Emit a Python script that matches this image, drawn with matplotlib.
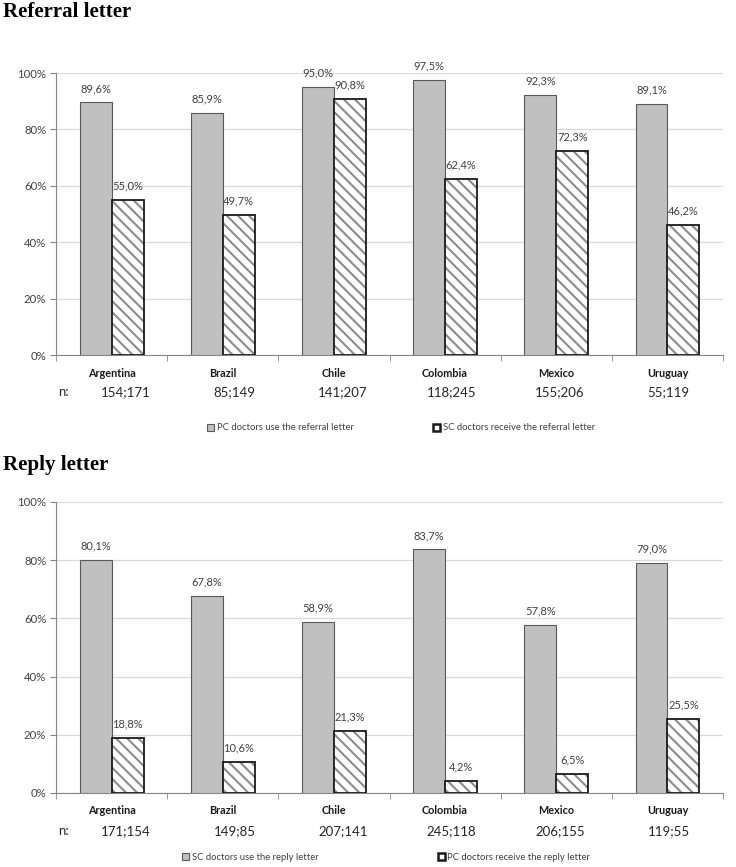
import numpy as np
from matplotlib import pyplot as plt
from matplotlib.patches import Rectangle

countries = ['Argentina', 'Brazil', 'Chile', 'Colombia', 'Mexico', 'Uruguay']

# referral letter
ref_use = [89.6, 85.9, 95.0, 97.5, 92.3, 89.1]
ref_receive = [55.0, 49.7, 90.8, 62.4, 72.3, 46.2]
ref_n = ['154;171', '85;149', '141;207', '118;245', '155;206', '55;119']

# reply letter
rep_use = [80.1, 67.8, 58.9, 83.7, 57.8, 79.0]
rep_receive = [18.8, 10.6, 21.3, 4.2, 6.5, 25.5]
rep_n = ['171;154', '149;85', '207;141', '245;118', '206;155', '119;55']

plt.rcParams['font.family'] = ['Lato', 'DejaVu Sans']
plt.rcParams['hatch.linewidth'] = 1.5

fig = plt.figure(figsize=(7.36, 8.67), dpi=100)
fig.patch.set_facecolor('white')

GRAY = '#c0c0c0'
TXT = '#404040'


def pct(v):
    return f'{v:.1f}%'.replace('.', ',')


def draw_panel(ax, use, receive, nvals):
    x = np.arange(len(countries))
    w = 0.287
    b1 = ax.bar(x - w / 2, use, w, color=GRAY, edgecolor='#595959', linewidth=0.8, zorder=3)
    # hatch in gray, black outline on top
    b2 = ax.bar(x + w / 2, receive, w, color='white', edgecolor='#8c8c8c', linewidth=0,
                hatch='\\\\\\', zorder=3)
    ax.bar(x + w / 2, receive, w, fill=False, edgecolor='#1a1a1a', linewidth=1.3, zorder=4)
    for bars, vals in [(b1, use), (b2, receive)]:
        for bar, v in zip(bars, vals):
            ax.annotate(pct(v), (bar.get_x() + bar.get_width() / 2, v),
                        xytext=(0, 10), textcoords='offset points',
                        ha='center', va='center', fontsize=8, color=TXT)
    ax.set_xlim(-0.5, len(countries) - 0.5)
    ax.set_ylim(0, 100)
    ax.set_yticks(np.arange(0, 101, 20))
    ax.set_yticklabels([f'{t}%' for t in range(0, 101, 20)], fontsize=8.2, color=TXT)
    ax.set_xticks(x)
    ax.set_xticklabels(countries, fontsize=7.8, fontweight='bold', color='#1a1a1a')
    ax.set_xticks(np.arange(-0.5, len(countries)), minor=True)
    ax.tick_params(axis='x', which='major', length=0, pad=9)
    ax.tick_params(axis='x', which='minor', length=4, color='#868686')
    ax.tick_params(axis='y', length=4, color='#868686', pad=3)
    ax.grid(axis='y', color='#d9d9d9', linewidth=0.9, zorder=0)
    for s in ['top', 'right']:
        ax.spines[s].set_visible(False)
    ax.spines['left'].set_color('#868686')
    ax.spines['bottom'].set_color('#868686')
    # n row
    trans = ax.get_xaxis_transform()
    ax.text(-0.43, -0.131, 'n:', transform=trans, ha='center', va='center',
            fontsize=9.5, color='#262626')
    for i, n in enumerate(nvals):
        ax.text(0.129 + 0.976 * i, -0.131, n, transform=trans, ha='center', va='center',
                fontsize=9.5, color='#262626')


def add_legend(labels, x0, y0, spacing):
    h1 = Rectangle((0, 0), 1, 1, facecolor=GRAY, edgecolor='#595959', linewidth=0.8)
    h2 = Rectangle((0, 0), 1, 1, facecolor='white', edgecolor='#1a1a1a', linewidth=1.8)
    fig.legend([h1, h2], labels, loc='center left', bbox_to_anchor=(x0, y0),
               ncol=2, frameon=False, fontsize=6.8, handlelength=0.75, handleheight=0.75,
               handletextpad=0.3, columnspacing=spacing, borderpad=0, borderaxespad=0,
               labelcolor=TXT)


ax1 = fig.add_axes([0.0761, 0.5905, 0.9063, 0.3253])
draw_panel(ax1, ref_use, ref_receive, ref_n)
add_legend(['PC doctors use the referral letter', 'SC doctors receive the referral letter'],
           207 / 736, 1 - 428 / 867, 8.4)

ax2 = fig.add_axes([0.0761, 0.0854, 0.9063, 0.3356])
draw_panel(ax2, rep_use, rep_receive, rep_n)
add_legend(['SC doctors use the reply letter', 'PC doctors receive the reply letter'],
           182 / 736, 1 - 857 / 867, 12.6)

fig.text(0.004, 1 - 12 / 867, 'Referral letter', fontsize=15, fontweight='bold',
         family='Liberation Serif', ha='left', va='center')
fig.text(0.004, 1 - 465 / 867, 'Reply letter', fontsize=15, fontweight='bold',
         family='Liberation Serif', ha='left', va='center')

fig.savefig('out.png', dpi=100)
